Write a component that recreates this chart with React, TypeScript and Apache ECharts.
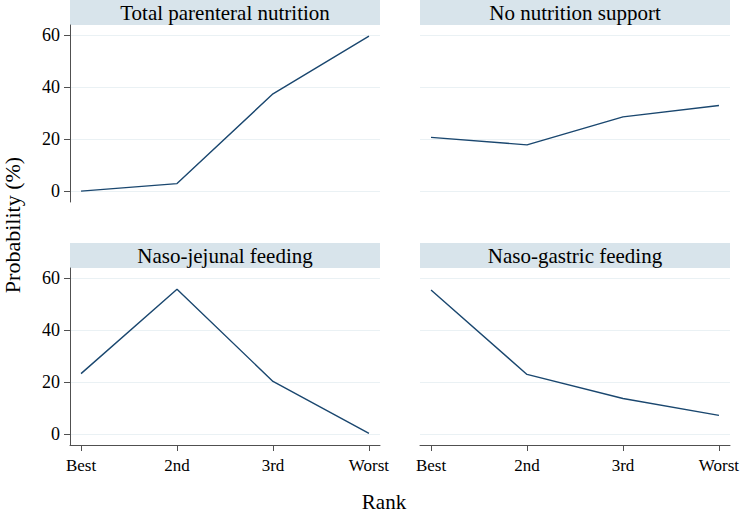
import React, { useEffect, useRef } from "react";
import * as echarts from "echarts";

const ranks = ["Best", "2nd", "3rd", "Worst"];
const rankPositions = [1, 2, 3, 4];
const yTicks = [0, 20, 40, 60];

const panelTitles = [
  "Total parenteral nutrition",
  "No nutrition support",
  "Naso-jejunal feeding",
  "Naso-gastric feeding",
];
const totalParenteral = [0, 2.9, 37.5, 59.7];
const noSupport = [20.7, 17.8, 28.6, 33.0];
const nasoJejunal = [23.3, 55.8, 20.3, 0.3];
const nasoGastric = [55.5, 23.0, 13.7, 7.2];
const seriesValues = [totalParenteral, noSupport, nasoJejunal, nasoGastric];

const yTitle = "Probability (%)";
const xTitle = "Rank";

const FONT = "Times New Roman, Liberation Serif, DejaVu Serif, serif";
const LINE = "#1a476f";
const AXIS = "#505050";
const GRIDLINE = "#eaf1f4";
const HEADER = "#d8e4eb";

export default function App() {
  const ref = useRef<HTMLDivElement>(null);

  useEffect(() => {
    if (!ref.current) return;
    const chart = echarts.init(ref.current, null, { renderer: "svg" });

    const lefts = [70, 420, 70, 420];
    const tops = [25, 25, 268, 268];
    const W = 310;
    const H = 177;

    const grids = lefts.map((l, i) => ({
      left: l,
      top: tops[i],
      width: W,
      height: H,
      containLabel: false,
      outerBoundsMode: "none",
    }));

    const xAxes = lefts.map((_, i) => {
      const bottom = i >= 2;
      return {
        type: "value",
        gridIndex: i,
        min: 0.885,
        max: 4.115,
        axisLine: { show: bottom, onZero: false, lineStyle: { color: AXIS, width: 1 } },
        axisTick: {
          show: bottom,
          length: 6,
          lineStyle: { color: AXIS },
          customValues: rankPositions,
        },
        axisLabel: {
          show: bottom,
          customValues: rankPositions,
          formatter: (v: number) => ranks[Math.round(v) - 1] ?? "",
          color: "#000",
          fontFamily: FONT,
          fontSize: 17,
          margin: 12,
        },
        splitLine: { show: false },
      };
    });

    const yAxes = lefts.map((_, i) => {
      const left = i % 2 === 0;
      return {
        type: "value",
        gridIndex: i,
        min: -4.2,
        max: 64,
        axisLine: { show: left, onZero: false, lineStyle: { color: AXIS, width: 1 } },
        axisTick: {
          show: left,
          length: 6,
          lineStyle: { color: AXIS },
          customValues: yTicks,
        },
        axisLabel: {
          show: left,
          customValues: yTicks,
          color: "#000",
          fontFamily: FONT,
          fontSize: 18,
          margin: 10,
        },
        splitLine: { show: true, lineStyle: { color: GRIDLINE, width: 1.2 } },
      };
    });

    const series = seriesValues.map((vals, i) => ({
      type: "line",
      xAxisIndex: i,
      yAxisIndex: i,
      data: vals.map((v, j) => [rankPositions[j], v]),
      symbol: "none",
      lineStyle: { color: LINE, width: 1.4 },
      silent: true,
    }));

    const graphics: any[] = [];
    lefts.forEach((l, i) => {
      const hTop = i < 2 ? 0 : 243;
      graphics.push({
        type: "rect",
        shape: { x: l, y: hTop, width: W, height: 25 },
        style: { fill: HEADER },
        silent: true,
      });
      graphics.push({
        type: "text",
        x: l + W / 2,
        y: hTop + 13,
        style: {
          text: panelTitles[i],
          fill: "#000",
          fontFamily: FONT,
          fontSize: 21,
          textAlign: "center",
          textVerticalAlign: "middle",
        },
        silent: true,
      });
    });
    graphics.push({
      type: "text",
      x: 12,
      y: 225,
      rotation: Math.PI / 2,
      style: {
        text: yTitle,
        fill: "#000",
        fontFamily: FONT,
        fontSize: 22,
        textAlign: "center",
        textVerticalAlign: "middle",
      },
      silent: true,
    });
    graphics.push({
      type: "text",
      x: 384,
      y: 502,
      style: {
        text: xTitle,
        fill: "#000",
        fontFamily: FONT,
        fontSize: 21,
        textAlign: "center",
        textVerticalAlign: "middle",
      },
      silent: true,
    });

    chart.setOption({
      animation: false,
      backgroundColor: "#ffffff",
      textStyle: { fontFamily: FONT },
      grid: grids,
      xAxis: xAxes,
      yAxis: yAxes,
      series,
      graphic: graphics,
    } as any);

    return () => chart.dispose();
  }, []);

  return (
    <div
      ref={ref}
      style={{ position: "fixed", left: 0, top: 0, width: 740, height: 514 }}
    />
  );
}
